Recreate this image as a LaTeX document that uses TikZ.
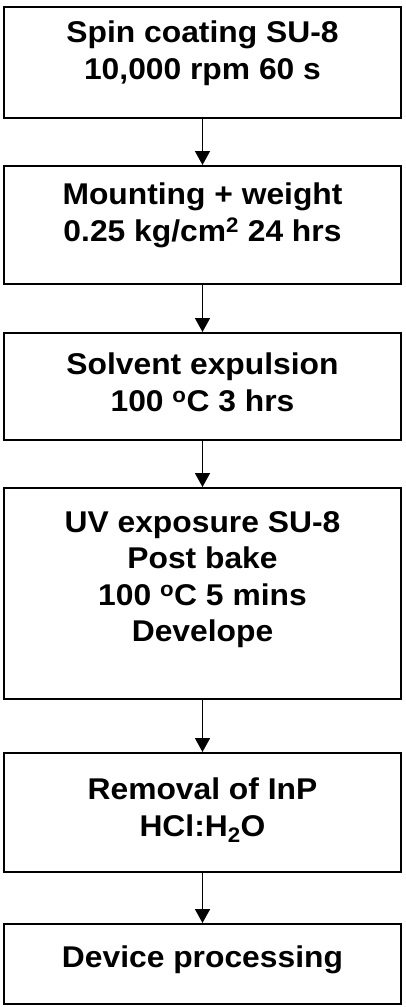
\documentclass[tikz,border=0pt]{standalone}
\usepackage{fontspec}
\setmainfont{Liberation Sans}[FakeStretch=1.06]
\usetikzlibrary{arrows.meta}
\begin{document}
\begin{tikzpicture}[x=1pt,y=1pt,
  stepbox/.style={draw=black, line width=2.4pt, minimum width=397pt, inner sep=0pt, anchor=north},
  steptext/.style={anchor=north, inner sep=0pt, align=center, font=\fontsize{30}{36.5}\selectfont\bfseries},
  flow/.style={line width=1.6pt, -{Triangle[width=15pt,length=14pt]}}]
\useasboundingbox (0,0) rectangle (406,-1007);
\node[stepbox, minimum height=111pt] (b1) at (202.5,-6) {};
\node[stepbox, minimum height=118pt] (b2) at (202.5,-165) {};
\node[stepbox, minimum height=107pt] (b3) at (202.5,-332) {};
\node[stepbox, minimum height=211pt] (b4) at (202.5,-487) {};
\node[stepbox, minimum height=119pt] (b5) at (202.5,-752) {};
\node[stepbox, minimum height=80pt] (b6) at (202.5,-923) {};
\node[steptext] (t1) at ([yshift=-15pt]b1.north) {Spin coating SU-8\\10,000 rpm 60 s};
\node[steptext] (t2) at ([yshift=-18pt]b2.north) {Mounting + weight\\0.25 kg/cm\textsuperscript{2} 24 hrs};
\node[steptext] (t3) at ([yshift=-21pt]b3.north) {Solvent expulsion\\100 \textsuperscript{o}C 3 hrs};
\node[steptext] (t4) at ([yshift=-24pt]b4.north) {UV exposure SU-8\\Post bake\\100 \textsuperscript{o}C 5 mins\\Develope};
\node[steptext] (t5) at ([yshift=-26pt]b5.north) {Removal of InP\\HCl:H\textsubscript{2}O};
\node[steptext] (t6) at ([yshift=-23pt]b6.north) {Device processing};
\draw[flow] (b1.south) -- (b2.north);
\draw[flow] (b2.south) -- (b3.north);
\draw[flow] (b3.south) -- (b4.north);
\draw[flow] (b4.south) -- (b5.north);
\draw[flow] (b5.south) -- (b6.north);
\end{tikzpicture}
\end{document}
